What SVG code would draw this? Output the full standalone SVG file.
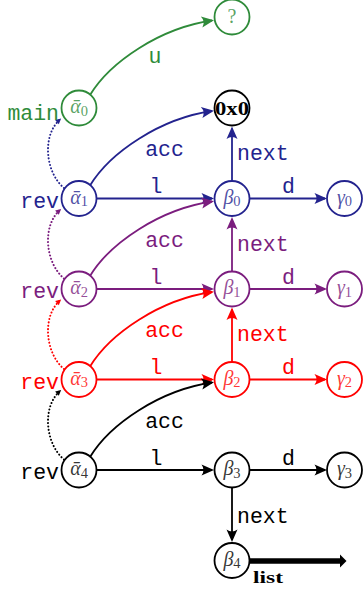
<svg xmlns="http://www.w3.org/2000/svg" width="363" height="589" viewBox="0 0 363 589">
<style>
.nd{fill:#fff;stroke-width:1.8}
.tt{font-family:"Liberation Mono","DejaVu Sans Mono",monospace;font-size:21.5px}
.m{font-family:"Liberation Serif","DejaVu Serif",serif;font-style:italic;font-size:20px;text-anchor:middle;fill-opacity:0.8}
.s{font-size:14.5px;font-style:normal}
.e{fill:none;stroke-width:1.8}
.dt{fill:none;stroke-width:2;stroke-dasharray:0.1 3.3;stroke-linecap:round}
.g{stroke:#2f8b3a}
.b{stroke:#23238e}
.p{stroke:#7b1d7e}
.r{stroke:#ff0000}
.k{stroke:#000}
.mid{text-anchor:middle}
.end{text-anchor:end}
</style>
<defs>
<marker id="ag" viewBox="-15 -10 20 20" markerWidth="20" markerHeight="20" refX="0" refY="0" orient="auto" markerUnits="userSpaceOnUse"><path d="M2,0 L-10.5,-5.5 Q-6.5,0 -10.5,5.5 Z" fill="#2f8b3a"/></marker>
<marker id="ab" viewBox="-15 -10 20 20" markerWidth="20" markerHeight="20" refX="0" refY="0" orient="auto" markerUnits="userSpaceOnUse"><path d="M2,0 L-10.5,-5.5 Q-6.5,0 -10.5,5.5 Z" fill="#23238e"/></marker>
<marker id="ap" viewBox="-15 -10 20 20" markerWidth="20" markerHeight="20" refX="0" refY="0" orient="auto" markerUnits="userSpaceOnUse"><path d="M2,0 L-10.5,-5.5 Q-6.5,0 -10.5,5.5 Z" fill="#7b1d7e"/></marker>
<marker id="ar" viewBox="-15 -10 20 20" markerWidth="20" markerHeight="20" refX="0" refY="0" orient="auto" markerUnits="userSpaceOnUse"><path d="M2,0 L-10.5,-5.5 Q-6.5,0 -10.5,5.5 Z" fill="#ff0000"/></marker>
<marker id="ak" viewBox="-15 -10 20 20" markerWidth="20" markerHeight="20" refX="0" refY="0" orient="auto" markerUnits="userSpaceOnUse"><path d="M2,0 L-10.5,-5.5 Q-6.5,0 -10.5,5.5 Z" fill="#000"/></marker>
<marker id="db" viewBox="-8 -5 10 10" markerWidth="10" markerHeight="10" refX="0" refY="0" orient="auto" markerUnits="userSpaceOnUse"><path d="M1.5,0 L-4,-2.8 L-4,2.8 Z" fill="#23238e"/></marker>
<marker id="dp" viewBox="-8 -5 10 10" markerWidth="10" markerHeight="10" refX="0" refY="0" orient="auto" markerUnits="userSpaceOnUse"><path d="M1.5,0 L-4,-2.8 L-4,2.8 Z" fill="#7b1d7e"/></marker>
<marker id="dr" viewBox="-8 -5 10 10" markerWidth="10" markerHeight="10" refX="0" refY="0" orient="auto" markerUnits="userSpaceOnUse"><path d="M1.5,0 L-4,-2.8 L-4,2.8 Z" fill="#ff0000"/></marker>
<marker id="dk" viewBox="-8 -5 10 10" markerWidth="10" markerHeight="10" refX="0" refY="0" orient="auto" markerUnits="userSpaceOnUse"><path d="M1.5,0 L-4,-2.8 L-4,2.8 Z" fill="#000"/></marker>
</defs>

<g id="connectors">
<path class="e g" d="M90,95 C110,62 160,28 212,20.5" marker-end="url(#ag)"/>

<path class="e b" d="M90,185.5 C110,152.5 160,118.5 212,111" marker-end="url(#ab)"/>
<path class="e b" d="M97,198.5 H212" marker-end="url(#ab)"/>
<path class="e b" d="M232,181 V128.5" marker-end="url(#ab)"/>
<path class="e b" d="M250,198.5 H325" marker-end="url(#ab)"/>
<path class="dt b" d="M64,188 C45,172 42,135 60,119.5" marker-end="url(#db)"/>

<path class="e p" d="M90,276 C110,243 160,209 212,201.5" marker-end="url(#ap)"/>
<path class="e p" d="M97,289 H212" marker-end="url(#ap)"/>
<path class="e p" d="M232,271.5 V219" marker-end="url(#ap)"/>
<path class="e p" d="M250,289 H325" marker-end="url(#ap)"/>
<path class="dt p" d="M64,278.5 C45,262.5 42,225.5 60,210" marker-end="url(#dp)"/>

<path class="e r" d="M90,366.5 C110,333.5 160,299.5 212,292" marker-end="url(#ar)"/>
<path class="e r" d="M97,379.5 H212" marker-end="url(#ar)"/>
<path class="e r" d="M232,362 V309.5" marker-end="url(#ar)"/>
<path class="e r" d="M250,379.5 H325" marker-end="url(#ar)"/>
<path class="dt r" d="M64,369 C45,353 42,316 60,300.5" marker-end="url(#dr)"/>

<path class="e k" d="M90,457 C110,424 160,390 212,382.5" marker-end="url(#ak)"/>
<path class="e k" d="M97,470 H212" marker-end="url(#ak)"/>
<path class="e k" d="M232,487.5 V540" marker-end="url(#ak)"/>
<path class="e k" d="M250,470 H325" marker-end="url(#ak)"/>
<path class="dt k" d="M64,459.5 C45,443.5 42,406.5 60,391" marker-end="url(#dk)"/>

<path d="M250,561 H341" stroke="#000" stroke-width="5.5" fill="none"/>
<path d="M340,554.5 L346.5,561 L340,567.5 Z" fill="#000"/>

<text class="tt mid" x="155" y="63" fill="#2f8b3a">u</text>
<text class="tt end" x="59" y="120" fill="#2f8b3a">main</text>

<text class="tt mid" x="164.5" y="156" fill="#23238e">acc</text>
<text class="tt mid" x="156" y="193" fill="#23238e">l</text>
<text class="tt mid" x="288.5" y="193" fill="#23238e">d</text>
<text class="tt" x="237" y="160" fill="#23238e">next</text>
<text class="tt end" x="59" y="207.5" fill="#23238e">rev</text>

<text class="tt mid" x="164.5" y="246.5" fill="#7b1d7e">acc</text>
<text class="tt mid" x="156" y="283.5" fill="#7b1d7e">l</text>
<text class="tt mid" x="288.5" y="283.5" fill="#7b1d7e">d</text>
<text class="tt" x="237" y="250.5" fill="#7b1d7e">next</text>
<text class="tt end" x="59" y="298" fill="#7b1d7e">rev</text>

<text class="tt mid" x="164.5" y="337" fill="#ff0000">acc</text>
<text class="tt mid" x="156" y="374" fill="#ff0000">l</text>
<text class="tt mid" x="288.5" y="374" fill="#ff0000">d</text>
<text class="tt" x="237" y="341" fill="#ff0000">next</text>
<text class="tt end" x="59" y="388.5" fill="#ff0000">rev</text>

<text class="tt mid" x="164.5" y="427.5" fill="#000">acc</text>
<text class="tt mid" x="156" y="464.5" fill="#000">l</text>
<text class="tt mid" x="288.5" y="464.5" fill="#000">d</text>
<text class="tt" x="237" y="523" fill="#000">next</text>
<text class="tt end" x="59" y="479" fill="#000">rev</text>

<text x="253" y="583" font-family="Liberation Serif, DejaVu Serif, serif" font-weight="bold" font-size="17" textLength="30" lengthAdjust="spacingAndGlyphs" fill="#000">list</text>
</g>

<g id="n-q"><circle class="nd" cx="232" cy="17" r="17.5" stroke="#2f8b3a"/><text x="232" y="23" font-family="Liberation Serif, DejaVu Serif, serif" font-size="20" text-anchor="middle" fill="#2f8b3a" fill-opacity="0.8">?</text></g>
<g id="n-a0"><circle class="nd" cx="79" cy="108" r="17.5" stroke="#2f8b3a"/><text class="m" x="79" y="113" fill="#2f8b3a">ᾱ<tspan class="s" dy="2.5">0</tspan></text></g>
<g id="n-0x0"><circle class="nd" cx="232" cy="108" r="17.5" stroke="#000"/><text x="232" y="115" font-family="Liberation Serif, DejaVu Serif, serif" font-weight="bold" font-size="19" text-anchor="middle" textLength="34" lengthAdjust="spacingAndGlyphs" fill="#000">0x0</text></g>

<g id="n-a1"><circle class="nd" cx="79" cy="198.5" r="17.5" stroke="#23238e"/><text class="m" x="79" y="203.5" fill="#23238e">ᾱ<tspan class="s" dy="2.5">1</tspan></text></g>
<g id="n-b0"><circle class="nd" cx="232" cy="198.5" r="17.5" stroke="#23238e"/><text class="m" x="232" y="203.5" fill="#23238e">β<tspan class="s" dy="2.5">0</tspan></text></g>
<g id="n-g0"><circle class="nd" cx="344.5" cy="198.5" r="17.5" stroke="#23238e"/><text class="m" x="344.5" y="203.5" fill="#23238e">γ<tspan class="s" dy="2.5">0</tspan></text></g>

<g id="n-a2"><circle class="nd" cx="79" cy="289" r="17.5" stroke="#7b1d7e"/><text class="m" x="79" y="294" fill="#7b1d7e">ᾱ<tspan class="s" dy="2.5">2</tspan></text></g>
<g id="n-b1"><circle class="nd" cx="232" cy="289" r="17.5" stroke="#7b1d7e"/><text class="m" x="232" y="294" fill="#7b1d7e">β<tspan class="s" dy="2.5">1</tspan></text></g>
<g id="n-g1"><circle class="nd" cx="344.5" cy="289" r="17.5" stroke="#7b1d7e"/><text class="m" x="344.5" y="294" fill="#7b1d7e">γ<tspan class="s" dy="2.5">1</tspan></text></g>

<g id="n-a3"><circle class="nd" cx="79" cy="379.5" r="17.5" stroke="#ff0000"/><text class="m" x="79" y="384.5" fill="#ff0000">ᾱ<tspan class="s" dy="2.5">3</tspan></text></g>
<g id="n-b2"><circle class="nd" cx="232" cy="379.5" r="17.5" stroke="#ff0000"/><text class="m" x="232" y="384.5" fill="#ff0000">β<tspan class="s" dy="2.5">2</tspan></text></g>
<g id="n-g2"><circle class="nd" cx="344.5" cy="379.5" r="17.5" stroke="#ff0000"/><text class="m" x="344.5" y="384.5" fill="#ff0000">γ<tspan class="s" dy="2.5">2</tspan></text></g>

<g id="n-a4"><circle class="nd" cx="79" cy="470" r="17.5" stroke="#000"/><text class="m" x="79" y="475" fill="#000">ᾱ<tspan class="s" dy="2.5">4</tspan></text></g>
<g id="n-b3"><circle class="nd" cx="232" cy="470" r="17.5" stroke="#000"/><text class="m" x="232" y="475" fill="#000">β<tspan class="s" dy="2.5">3</tspan></text></g>
<g id="n-g3"><circle class="nd" cx="344.5" cy="470" r="17.5" stroke="#000"/><text class="m" x="344.5" y="475" fill="#000">γ<tspan class="s" dy="2.5">3</tspan></text></g>
<g id="n-b4"><circle class="nd" cx="232" cy="560.5" r="17.5" stroke="#000"/><text class="m" x="232" y="565.5" fill="#000">β<tspan class="s" dy="2.5">4</tspan></text></g>
</svg>
